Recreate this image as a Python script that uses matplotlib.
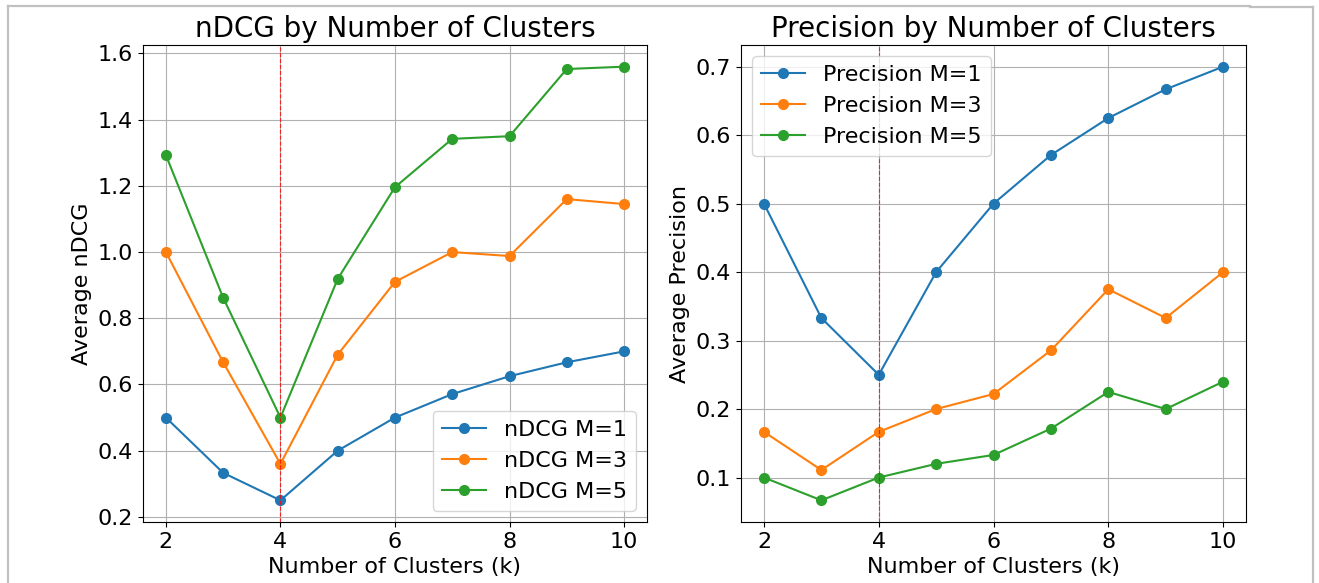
import numpy as np
import matplotlib.pyplot as plt
from matplotlib.lines import Line2D

k = [2, 3, 4, 5, 6, 7, 8, 9, 10]

ndcg_m1 = [0.5, 0.333, 0.25, 0.4, 0.5, 0.571, 0.625, 0.667, 0.7]
ndcg_m3 = [1.0, 0.667, 0.36, 0.69, 0.91, 1.0, 0.988, 1.16, 1.145]
ndcg_m5 = [1.293, 0.862, 0.5, 0.919, 1.196, 1.342, 1.35, 1.553, 1.56]

prec_m1 = [0.5, 0.333, 0.25, 0.4, 0.5, 0.571, 0.625, 0.667, 0.7]
prec_m3 = [0.1667, 0.111, 0.1667, 0.2, 0.222, 0.2857, 0.375, 0.333, 0.4]
prec_m5 = [0.1, 0.0667, 0.1, 0.12, 0.133, 0.1714, 0.225, 0.2, 0.24]

best_k = 4

fig = plt.figure(figsize=(13.19, 5.83), dpi=100)

ax1 = fig.add_axes([0.1084, 0.1046, 0.3821, 0.8182])
ax2 = fig.add_axes([0.5618, 0.1046, 0.3829, 0.8182])

ax1.plot(k, ndcg_m1, marker='o', markersize=7, label='nDCG M=1')
ax1.plot(k, ndcg_m3, marker='o', markersize=7, label='nDCG M=3')
ax1.plot(k, ndcg_m5, marker='o', markersize=7, label='nDCG M=5')
ax1.axvline(best_k, color='red', linestyle='--', linewidth=0.8, alpha=0.8)
ax1.set_title('nDCG by Number of Clusters', fontsize=20)
ax1.set_xlabel('Number of Clusters (k)', fontsize=16)
ax1.set_ylabel('Average nDCG', fontsize=16)
ax1.tick_params(labelsize=16)
ax1.grid(True)
ax1.legend(loc='lower right', fontsize=16)

ax2.plot(k, prec_m1, marker='o', markersize=7, label='Precision M=1')
ax2.plot(k, prec_m3, marker='o', markersize=7, label='Precision M=3')
ax2.plot(k, prec_m5, marker='o', markersize=7, label='Precision M=5')
ax2.axvline(best_k, color='red', linestyle='--', linewidth=0.8, alpha=0.8)
ax2.set_title('Precision by Number of Clusters', fontsize=20)
ax2.set_xlabel('Number of Clusters (k)', fontsize=16)
ax2.set_ylabel('Average Precision', fontsize=16)
ax2.tick_params(labelsize=16)
ax2.grid(True)
ax2.legend(loc='upper left', fontsize=16)

for ax in (ax1, ax2):
    ax.set_xticks([2, 4, 6, 8, 10])

# page frame around the pasted figure
W, H = 1319, 583
frame = dict(color='#c0c0c0', linewidth=1.6, transform=fig.transFigure)
fig.add_artist(Line2D([7.5/W, 7.5/W], [0, 1 - 5.5/H], **frame))
fig.add_artist(Line2D([7.5/W, 1250/W], [1 - 5.5/H, 1 - 5.5/H], **frame))
fig.add_artist(Line2D([1250/W, 1313/W], [1 - 6.5/H, 1 - 6.5/H], **frame))
fig.add_artist(Line2D([1313/W, 1313/W], [0, 1 - 6.5/H], **frame))

plt.savefig('out.png', dpi=100)
